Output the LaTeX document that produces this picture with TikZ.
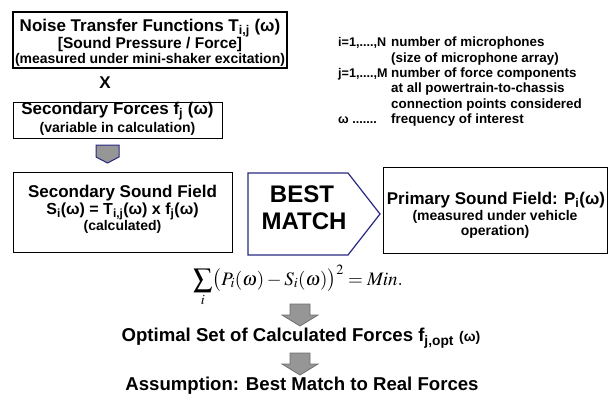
\documentclass[tikz,border=0pt]{standalone}
\usepackage{mathptmx}
\usepackage[no-math]{fontspec}
\setmainfont{Liberation Sans}
\definecolor{navy}{RGB}{40,40,130}
\definecolor{arrgray}{RGB}{150,150,150}
\definecolor{arrline}{RGB}{110,110,110}
\newcommand\fsz[1]{\fontsize{#1}{#1}\selectfont}
\begin{document}
\begin{tikzpicture}[x=1pt,y=-1pt,
  box/.style={draw=black, line width=1pt, fill=white, inner sep=0pt},
  txt/.style={inner sep=0pt, text height=0.72em, text depth=0.2em, anchor=center},
  ttl/.style={txt, font=\bfseries\fsz{17}},
  sub/.style={txt, font=\bfseries\fsz{14}},
  leg/.style={txt, anchor=west, font=\bfseries\fsz{13.4}},
  legkey/.style={leg, font=\bfseries\fsz{12.6}},
  big/.style={txt, font=\bfseries\fsz{18.6}},
  smallarrow/.style={fill=arrgray, draw=navy, line width=1pt, line join=miter},
  bigarrow/.style={fill=arrgray, draw=arrline, line width=0.8pt, line join=miter}]
\useasboundingbox (0,0) rectangle (613,399);

% box 1
\node[box, line width=1.2pt, minimum width=274pt, minimum height=56pt] (box1) at (150,40) {};
\node[ttl] (t1a) at (150,29) {Noise Transfer Functions T\textsubscript{i,j} (ω)};
\node[txt, font=\bfseries\fsz{15.5}] (t1b) at (150,46) {[Sound Pressure / Force]};
\node[sub] (t1c) at (150,61) {(measured under mini-shaker excitation)};

\node[ttl] (x) at (105,86) {X};

% box 2
\node[box, minimum width=209pt, minimum height=36pt] (box2) at (117.5,120) {};
\node[ttl] (t2a) at (117.5,112) {Secondary Forces f\textsubscript{j} (ω)};
\node[sub] (t2b) at (117.5,130) {(variable in calculation)};

% small arrow
\draw[smallarrow] (96,145) -- (119,145) -- (119,157) -- (107.5,163) -- (96,157) -- cycle;

% box 3
\node[box, minimum width=219pt, minimum height=80pt] (box3) at (122.5,212) {};
\node[ttl] (t3a) at (122.5,195) {Secondary Sound Field};
\node[txt, font=\bfseries\fsz{16}] (t3b) at (122.5,212) {S\textsubscript{i}(ω) = T\textsubscript{i,j}(ω) x f\textsubscript{j}(ω)};
\node[sub] (t3c) at (122.5,228) {(calculated)};

% best match
\draw[navy, line width=1.2pt, fill=white, line join=miter] (248,173) -- (348,173) -- (380,214) -- (348,255) -- (248,255) -- cycle;
\node[txt, font=\bfseries\fsz{24}] (bm1) at (302,200) {BEST};
\node[txt, font=\bfseries\fsz{24}] (bm2) at (304,227) {MATCH};

% box 4
\node[box, minimum width=224pt, minimum height=86pt] (box4) at (495,210) {};
\node[ttl] (t4a) at (496,202) {Primary Sound Field: P\textsubscript{i}(ω)};
\node[sub] (t4b) at (495,218) {(measured under vehicle};
\node[sub] (t4c) at (495,233) {operation)};

% legend
\node[legkey] (l1a) at (338,44) {i=1,....,N};
\node[leg] (l1b) at (391,44) {number of microphones};
\node[leg] (l2b) at (391,59.4) {(size of microphone array)};
\node[legkey] (l3a) at (338,74.8) {j=1,....,M};
\node[leg] (l3b) at (391,74.8) {number of force components};
\node[leg] (l4b) at (391,90.2) {at all powertrain-to-chassis};
\node[leg] (l5b) at (391,105.6) {connection points considered};
\node[legkey] (l6a) at (338,121) {ω .......};
\node[leg] (l6b) at (391,121) {frequency of interest};

% formula
\node[inner sep=0pt, anchor=base, font=\fsz{19}] (eq) at (298,285)
  {$\displaystyle\sum_i \bigl(P_i(\omega)-S_i(\omega)\bigr)^2 = \mathit{Min.}$};

% arrow 1
\draw[bigarrow] (290,304) -- (310,304) -- (310,315) -- (318,315) -- (300,326) -- (282,315) -- (290,315) -- cycle;
\node[big] (opt) at (301,339) {Optimal Set of Calculated Forces f\textsubscript{j,opt} {\fsz{14}(ω)}};

% arrow 2
\draw[bigarrow] (290,353) -- (310,353) -- (310,364) -- (318,364) -- (300,375) -- (282,364) -- (290,364) -- cycle;
\node[big] (ass) at (302,388) {Assumption: Best Match to Real Forces};
\end{tikzpicture}
\end{document}
